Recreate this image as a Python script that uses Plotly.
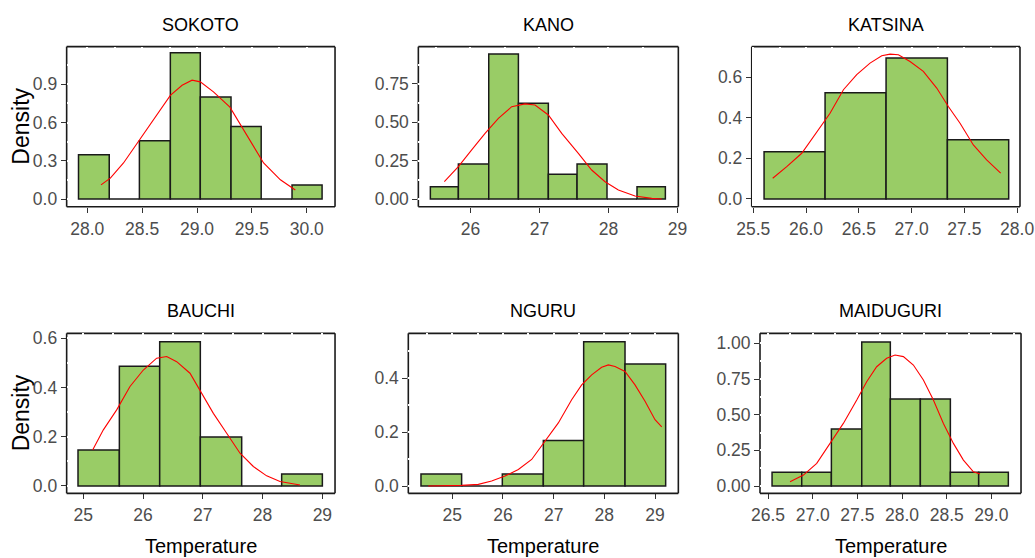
import plotly.graph_objects as go

# ---------------- data ----------------
stations = ["SOKOTO", "KANO", "KATSINA", "BAUCHI", "NGURU", "MAIDUGURI"]

sokoto_edges = [27.92, 28.20, 28.475, 28.757, 29.03, 29.31, 29.585, 29.866, 30.14]
sokoto_density = [0.347, 0.0, 0.458, 1.148, 0.80, 0.569, 0.0, 0.111]
sokoto_curve_x = [28.125, 28.21, 28.33, 28.48, 28.635, 28.757, 28.864, 28.955, 29.03,
                  29.15, 29.30, 29.456, 29.607, 29.76, 29.896]
sokoto_curve_y = [0.111, 0.164, 0.283, 0.469, 0.654, 0.813, 0.892, 0.932, 0.919,
                  0.84, 0.72, 0.495, 0.283, 0.151, 0.071]

kano_edges = [25.42, 25.826, 26.266, 26.696, 27.13, 27.546, 27.98, 28.415, 28.826]
kano_density = [0.0804, 0.228, 0.946, 0.624, 0.161, 0.228, 0.0, 0.080]
kano_curve_x = [25.623, 25.826, 26.019, 26.213, 26.406, 26.599, 26.792, 26.937, 27.130,
                27.324, 27.565, 27.758, 27.952, 28.145, 28.386, 28.628, 28.773]
kano_curve_y = [0.113, 0.211, 0.320, 0.428, 0.526, 0.602, 0.620, 0.613, 0.548,
                0.428, 0.298, 0.189, 0.113, 0.059, 0.020, 0.004, 0.0]

katsina_edges = [25.602, 26.18, 26.758, 27.339, 27.92]
katsina_density = [0.232, 0.523, 0.694, 0.291]
katsina_curve_x = [25.684, 25.817, 25.959, 26.085, 26.227, 26.354, 26.48, 26.606, 26.717,
                   26.796, 26.875, 26.985, 27.111, 27.238, 27.348, 27.459, 27.585, 27.711, 27.844]
katsina_curve_y = [0.102, 0.159, 0.225, 0.316, 0.422, 0.538, 0.612, 0.669, 0.705,
                   0.713, 0.710, 0.677, 0.628, 0.546, 0.455, 0.373, 0.266, 0.192, 0.127]

bauchi_edges = [24.911, 25.603, 26.278, 26.958, 27.65, 28.319, 29.0]
bauchi_density = [0.146, 0.486, 0.586, 0.199, 0.0, 0.0488]
bauchi_curve_x = [25.156, 25.335, 25.558, 25.781, 26.004, 26.227, 26.395, 26.562, 26.785,
                  26.953, 27.176, 27.399, 27.622, 27.845, 28.068, 28.291, 28.515, 28.626]
bauchi_curve_y = [0.146, 0.228, 0.309, 0.404, 0.471, 0.519, 0.526, 0.505, 0.458,
                  0.390, 0.295, 0.214, 0.133, 0.079, 0.041, 0.018, 0.007, 0.004]

nguru_edges = [24.382, 25.184, 25.987, 26.796, 27.592, 28.408, 29.21]
nguru_density = [0.045, 0.0, 0.045, 0.169, 0.535, 0.452]
nguru_curve_x = [24.526, 24.855, 25.184, 25.513, 25.776, 26.039, 26.303, 26.566, 26.829,
                 27.092, 27.355, 27.553, 27.75, 27.947, 28.079, 28.211, 28.408, 28.605,
                 28.803, 29.0, 29.132]
nguru_curve_y = [0.0, 0.0, 0.0025, 0.0062, 0.0185, 0.0369, 0.0615, 0.0985, 0.166,
                 0.234, 0.320, 0.375, 0.412, 0.440, 0.449, 0.443, 0.425, 0.375,
                 0.314, 0.246, 0.219]

maiduguri_edges = [26.545, 26.877, 27.209, 27.549, 27.869, 28.205, 28.541, 28.858, 29.19]
maiduguri_density = [0.096, 0.096, 0.40, 1.01, 0.61, 0.61, 0.096, 0.096]
maiduguri_curve_x = [26.746, 26.896, 27.045, 27.194, 27.343, 27.493, 27.604, 27.716, 27.828,
                     27.922, 28.015, 28.127, 28.239, 28.351, 28.463, 28.575, 28.687, 28.799, 28.873]
maiduguri_curve_y = [0.030, 0.077, 0.159, 0.299, 0.439, 0.603, 0.731, 0.836, 0.895,
                     0.918, 0.907, 0.848, 0.743, 0.603, 0.439, 0.299, 0.182, 0.100, 0.084]

x_title = "Temperature"
y_title = "Density"

# ---------------- layout settings ----------------
panels = [
    dict(edges=sokoto_edges, dens=sokoto_density, cx=sokoto_curve_x, cy=sokoto_curve_y,
         xdom=[0.0644, 0.3237], ydom=[0.6296, 0.9164], xr=[27.812, 30.258], yr=[-0.06, 1.195],
         x0=28.0, dx=0.5, xf=".1f", dy=0.3, yf=".1f"),
    dict(edges=kano_edges, dens=kano_density, cx=kano_curve_x, cy=kano_curve_y,
         xdom=[0.4042, 0.6554], ydom=[0.6296, 0.9164], xr=[25.246, 29.014], yr=[-0.05, 0.9935],
         x0=26, dx=1, xf="d", dy=0.25, yf=".2f"),
    dict(edges=katsina_edges, dens=katsina_density, cx=katsina_curve_x, cy=katsina_curve_y,
         xdom=[0.7263, 0.9855], ydom=[0.6296, 0.9164], xr=[25.485, 28.027], yr=[-0.038, 0.75],
         x0=25.5, dx=0.5, xf=".1f", dy=0.2, yf=".1f"),
    dict(edges=bauchi_edges, dens=bauchi_density, cx=bauchi_curve_x, cy=bauchi_curve_y,
         xdom=[0.0644, 0.3237], ydom=[0.1159, 0.4026], xr=[24.721, 29.212], yr=[-0.030, 0.620],
         x0=25, dx=1, xf="d", dy=0.2, yf=".1f"),
    dict(edges=nguru_edges, dens=nguru_density, cx=nguru_curve_x, cy=nguru_curve_y,
         xdom=[0.3945, 0.6554], ydom=[0.1159, 0.4026], xr=[24.132, 29.46], yr=[-0.027, 0.566],
         x0=25, dx=1, xf="d", dy=0.2, yf=".1f"),
    dict(edges=maiduguri_edges, dens=maiduguri_density, cx=maiduguri_curve_x, cy=maiduguri_curve_y,
         xdom=[0.7343, 0.9865], ydom=[0.1159, 0.4026], xr=[26.41, 29.332], yr=[-0.051, 1.070],
         x0=26.5, dx=0.5, xf=".1f", dy=0.25, yf=".2f"),
]

FONT = "Liberation Sans, Arial, sans-serif"
TICK_FONT = dict(family=FONT, size=17.5, color="#4d4d4d")
FILL = "#99CC66"

fig = go.Figure()
shapes = []
annotations = []

for i, p in enumerate(panels, start=1):
    sfx = "" if i == 1 else str(i)
    e = p["edges"]
    centers = [(a + b) / 2 for a, b in zip(e[:-1], e[1:])]
    widths = [b - a for a, b in zip(e[:-1], e[1:])]
    fig.add_trace(go.Bar(
        x=centers, y=p["dens"], width=widths,
        marker=dict(color=FILL, line=dict(color="#1a1a1a", width=1.5)),
        xaxis="x" + sfx, yaxis="y" + sfx, showlegend=False, hoverinfo="skip",
    ))
    fig.add_trace(go.Scatter(
        x=p["cx"], y=p["cy"], mode="lines", line=dict(color="red", width=1.1),
        xaxis="x" + sfx, yaxis="y" + sfx, showlegend=False, hoverinfo="skip",
    ))
    xa = dict(domain=p["xdom"], range=p["xr"], anchor="y" + sfx, automargin=False,
              tickmode="linear", tick0=p["x0"], dtick=p["dx"], tickformat=p["xf"],
              ticks="outside", ticklen=5, tickwidth=1, tickcolor="#333333",
              ticklabelstandoff=1,
              tickfont=TICK_FONT, showline=False, zeroline=False,
              showgrid=True, gridcolor="white", gridwidth=2,
              minor=dict(dtick=p["dx"] / 2, tick0=p["x0"], showgrid=True,
                         gridcolor="white", gridwidth=2, ticks=""))
    ya = dict(domain=p["ydom"], range=p["yr"], anchor="x" + sfx, automargin=False,
              tickmode="linear", tick0=0, dtick=p["dy"], tickformat=p["yf"],
              ticks="outside", ticklen=5, tickwidth=1, tickcolor="#333333",
              tickfont=TICK_FONT, showline=False, zeroline=False,
              showgrid=True, gridcolor="white", gridwidth=2,
              minor=dict(dtick=p["dy"] / 2, tick0=0, showgrid=True,
                         gridcolor="white", gridwidth=2, ticks=""))
    fig.update_layout(**{"xaxis" + sfx: xa, "yaxis" + sfx: ya})

    xr_ = "x" + sfx + " domain"
    yr_ = "y" + sfx + " domain"
    border = dict(color="#1a1a1a", width=1.6)
    # top and left drawn under the (white) grid -> broken look, bottom/right solid
    shapes.append(dict(type="line", xref=xr_, yref=yr_, x0=0, x1=1, y0=1, y1=1,
                       line=border, layer="below"))
    shapes.append(dict(type="line", xref=xr_, yref=yr_, x0=0, x1=0, y0=0, y1=1,
                       line=border, layer="below"))
    shapes.append(dict(type="line", xref=xr_, yref=yr_, x0=0, x1=1, y0=0, y1=0,
                       line=border, layer="above"))
    shapes.append(dict(type="line", xref=xr_, yref=yr_, x0=1, x1=1, y0=0, y1=1,
                       line=border, layer="above"))

    xc = (p["xdom"][0] + p["xdom"][1]) / 2
    row1 = i <= 3
    annotations.append(dict(text=stations[i - 1], xref="paper", yref="paper",
                            x=xc, y=0.9556 if row1 else 0.4435,
                            xanchor="center", yanchor="middle", showarrow=False,
                            font=dict(family=FONT, size=18, color="black")))
    if not row1:
        annotations.append(dict(text=x_title, xref="paper", yref="paper",
                                x=xc, y=0.0215, xanchor="center", yanchor="middle",
                                showarrow=False,
                                font=dict(family=FONT, size=20, color="black")))

for yc in (0.773, 0.2593):
    annotations.append(dict(text=y_title, xref="paper", yref="paper",
                            x=0.0203, y=yc, xanchor="center", yanchor="middle",
                            textangle=-90, showarrow=False,
                            font=dict(family=FONT, size=23, color="black")))

fig.update_layout(
    width=1035, height=558,
    margin=dict(l=0, r=0, t=0, b=0, autoexpand=False),
    paper_bgcolor="white", plot_bgcolor="white",
    bargap=0, barmode="overlay",
    shapes=shapes, annotations=annotations,
    showlegend=False,
)

# remove the browser's default 8px page margin so the figure starts at (0, 0)
fig.write_html("out.html",
               config={"displayModeBar": False, "staticPlot": True},
               post_script="document.body.style.margin='0';document.body.style.overflow='hidden';")
